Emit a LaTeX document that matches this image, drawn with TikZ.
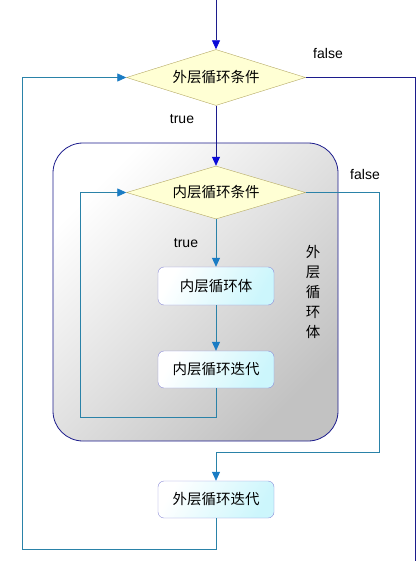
\documentclass[tikz,border=0pt]{standalone}
\usepackage{fontspec}
\setmainfont{Liberation Sans}
\newfontfamily\cjk{Noto Sans CJK SC}
\usetikzlibrary{arrows.meta,shapes.geometric}
\definecolor{navyline}{HTML}{1C1C8C}
\definecolor{arrowblue}{HTML}{0A0AD8}
\definecolor{tealline}{HTML}{2A82A8}
\definecolor{tealtip}{HTML}{1A7CC4}
\definecolor{condfill}{HTML}{FFFFD4}
\definecolor{condedge}{HTML}{B4A864}
\definecolor{boxedge}{HTML}{8C8CD8}
\definecolor{boxcyan}{HTML}{CCF6FC}

\begin{document}
\begin{tikzpicture}[x=1pt,y=-1pt,
  every node/.style={font=\fontsize{14}{19.5}\selectfont},
  cond/.style={diamond,draw=condedge,fill=condfill,inner sep=0pt,aspect=3.2,
    minimum width=179pt,minimum height=56pt,font=\cjk\fontsize{14.5}{16}\selectfont},
  stepbox/.style={rectangle,rounded corners=6pt,draw=boxedge,
    left color=white,right color=boxcyan,shading angle=60,
    minimum width=116pt,minimum height=37pt,inner sep=0pt,
    font=\cjk\fontsize{14.5}{16}\selectfont},
  outer/.style={draw=navyline,line width=0.8pt},
  inner/.style={draw=tealline,line width=0.8pt},
  outtip/.style={-{Triangle[width=8pt,length=9pt,color=arrowblue]}},
  intip/.style={-{Triangle[width=8pt,length=9pt,color=tealtip]}}]
\useasboundingbox (0,0) rectangle (419,561);

% outer loop body
\node[draw=navyline,line width=0.8pt,rounded corners=30pt,shading=axis,
  top color=white,bottom color=black!24,shading angle=45,
  minimum width=285pt,minimum height=298pt] (outbody) at (195.5,292) {};
\node[font=\cjk\fontsize{14.5}{19.8}\selectfont,align=center] (outlabel) at (313,292)
  {外\\层\\循\\环\\体};

% nodes
\node[cond] (outcond) at (216,77.5) {外层循环条件};
\node[cond,minimum height=53pt] (incond) at (216,192.5) {内层循环条件};
\node[stepbox,minimum height=38pt] (inbody) at (216,286) {内层循环体};
\node[stepbox] (initer) at (216,369.5) {内层循环迭代};
\node[stepbox] (outiter) at (216,499.5) {外层循环迭代};

\coordinate (top) at (216,0);
\coordinate (exit) at (415,561);
\coordinate (inexit) at (379,452);
\coordinate (inback) at (80,417);
\coordinate (outback) at (22,549);

% labels
\node (outfalse) at (328,53) {false};
\node (outtrue) at (182,119) {true};
\node (infalse) at (365,174) {false};
\node (intrue) at (186,243) {true};

% connectors
\draw[outer,outtip] (top) -- (outcond.north);
\draw[outer,outtip] (outcond.south) -- (incond.north);
\draw[outer] (outcond.east) -| (exit);
\draw[inner,intip] (incond.south) -- (inbody.north);
\draw[inner,intip] (inbody.south) -- (initer.north);
\draw[inner,intip] (initer.south) |- (inback) |- (incond.west);
\draw[inner,intip] (incond.east) -| (inexit) -| (outiter.north);
\draw[inner,intip] (outiter.south) |- (outback) |- (outcond.west);
\end{tikzpicture}
\end{document}
